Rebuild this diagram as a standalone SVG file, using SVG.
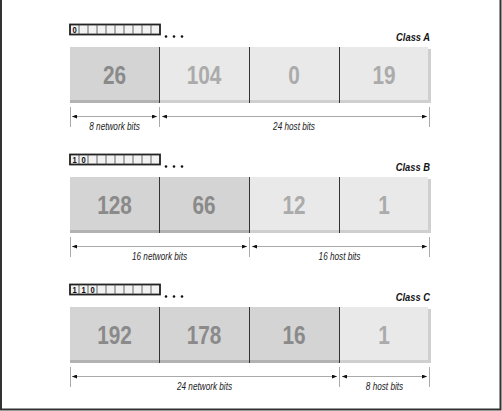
<svg xmlns="http://www.w3.org/2000/svg" width="502" height="411" viewBox="0 0 502 411">
<defs>
<style>
.net{fill:#d4d4d4}
.host{fill:#e9e9e9}
.netsh{fill:#b2b2b2}
.hostsh{fill:#cfcfcf}
.div{stroke:#333;stroke-width:1}
.num{font-family:"Liberation Sans",Arial,sans-serif;font-weight:bold;font-size:26px;text-anchor:middle}
.nd{fill:#8a8a8a}
.nl{fill:#ababab}
.cls{font-family:"Liberation Sans",Arial,sans-serif;font-weight:bold;font-style:italic;font-size:11px;text-anchor:end;fill:#111}
.dim{font-family:"Liberation Sans",Arial,sans-serif;font-style:italic;font-size:10px;text-anchor:middle;fill:#222}
.tick{stroke:#aaa;stroke-width:1}
.arr{stroke:#aaa;stroke-width:1;fill:none;marker-start:url(#ah);marker-end:url(#ah)}
.box{fill:#f2f2f2;stroke:#222;stroke-width:1.8}
.cell{stroke:#444;stroke-width:0.8}
.bit{font-family:"Liberation Sans",Arial,sans-serif;font-weight:bold;font-size:9.5px;text-anchor:middle;fill:#111}
.dot{fill:#111}
</style>
<marker id="ah" markerWidth="5" markerHeight="4" refX="5" refY="2" orient="auto-start-reverse" markerUnits="userSpaceOnUse">
<path d="M0,0 L5,2 L0,4 z" fill="#111"/>
</marker>
<g id="cells">
<rect class="box" x="70" y="0" width="90" height="10"/>
<path class="cell" d="M79,0V10M88,0V10M97,0V10M106,0V10M115,0V10M124,0V10M133,0V10M142,0V10M151,0V10"/>
<circle class="dot" cx="166" cy="12" r="1.3"/>
<circle class="dot" cx="174" cy="12" r="1.3"/>
<circle class="dot" cx="182" cy="12" r="1.3"/>
</g>
</defs>

<path d="M1,0 V409.5 H500.5 V0" fill="none" stroke="#333" stroke-width="2"/>

<!-- Class A -->
<g id="classA-bits">
<use href="#cells" y="24.5"/>
<text class="bit" transform="translate(74.5,33.2) scale(0.8,1)">0</text>
</g>
<text id="classA-label" class="cls" transform="translate(430,41) scale(0.85,1)">Class A</text>
<g id="classA-seg1">
<rect class="net" x="70" y="47" width="89" height="53"/>
<rect class="netsh" x="70" y="100" width="89" height="3"/>
<text class="num nd" transform="translate(114.5,84) scale(0.8,1)">26</text>
</g>
<g id="classA-seg2">
<rect class="host" x="159" y="47" width="90" height="53"/>
<rect class="hostsh" x="159" y="100" width="90" height="3"/>
<text class="num nl" transform="translate(204,84) scale(0.8,1)">104</text>
</g>
<g id="classA-seg3">
<rect class="host" x="249" y="47" width="90" height="53"/>
<rect class="hostsh" x="249" y="100" width="90" height="3"/>
<text class="num nl" transform="translate(294,84) scale(0.8,1)">0</text>
</g>
<g id="classA-seg4">
<rect class="host" x="339" y="47" width="89" height="53"/>
<rect class="hostsh" x="339" y="100" width="92" height="3"/>
<rect class="hostsh" x="428" y="49" width="3" height="54"/>
<text class="num nl" transform="translate(384,84) scale(0.8,1)">19</text>
</g>
<path class="div" d="M159.5,47V103M249.5,47V103M339.5,47V103"/>

<!-- Class B -->
<g id="classB-bits">
<use href="#cells" y="154.5"/>
<text class="bit" transform="translate(74.5,163.2) scale(0.8,1)">1</text>
<text class="bit" transform="translate(83.5,163.2) scale(0.8,1)">0</text>
</g>
<text id="classB-label" class="cls" transform="translate(430,171) scale(0.85,1)">Class B</text>
<g id="classB-seg1">
<rect class="net" x="70" y="177" width="89" height="53"/>
<rect class="netsh" x="70" y="230" width="89" height="3"/>
<text class="num nd" transform="translate(114.5,214) scale(0.8,1)">128</text>
</g>
<g id="classB-seg2">
<rect class="net" x="159" y="177" width="90" height="53"/>
<rect class="netsh" x="159" y="230" width="90" height="3"/>
<text class="num nd" transform="translate(204,214) scale(0.8,1)">66</text>
</g>
<g id="classB-seg3">
<rect class="host" x="249" y="177" width="90" height="53"/>
<rect class="hostsh" x="249" y="230" width="90" height="3"/>
<text class="num nl" transform="translate(294,214) scale(0.8,1)">12</text>
</g>
<g id="classB-seg4">
<rect class="host" x="339" y="177" width="89" height="53"/>
<rect class="hostsh" x="339" y="230" width="92" height="3"/>
<rect class="hostsh" x="428" y="179" width="3" height="54"/>
<text class="num nl" transform="translate(384,214) scale(0.8,1)">1</text>
</g>
<path class="div" d="M159.5,177V233M249.5,177V233M339.5,177V233"/>

<!-- Class C -->
<g id="classC-bits">
<use href="#cells" y="284.5"/>
<text class="bit" transform="translate(74.5,293.2) scale(0.8,1)">1</text>
<text class="bit" transform="translate(83.5,293.2) scale(0.8,1)">1</text>
<text class="bit" transform="translate(92.5,293.2) scale(0.8,1)">0</text>
</g>
<text id="classC-label" class="cls" transform="translate(430,301) scale(0.85,1)">Class C</text>
<g id="classC-seg1">
<rect class="net" x="70" y="307" width="89" height="53"/>
<rect class="netsh" x="70" y="360" width="89" height="3"/>
<text class="num nd" transform="translate(114.5,344) scale(0.8,1)">192</text>
</g>
<g id="classC-seg2">
<rect class="net" x="159" y="307" width="90" height="53"/>
<rect class="netsh" x="159" y="360" width="90" height="3"/>
<text class="num nd" transform="translate(204,344) scale(0.8,1)">178</text>
</g>
<g id="classC-seg3">
<rect class="net" x="249" y="307" width="90" height="53"/>
<rect class="netsh" x="249" y="360" width="90" height="3"/>
<text class="num nd" transform="translate(294,344) scale(0.8,1)">16</text>
</g>
<g id="classC-seg4">
<rect class="host" x="339" y="307" width="89" height="53"/>
<rect class="hostsh" x="339" y="360" width="92" height="3"/>
<rect class="hostsh" x="428" y="309" width="3" height="54"/>
<text class="num nl" transform="translate(384,344) scale(0.8,1)">1</text>
</g>
<path class="div" d="M159.5,307V363M249.5,307V363M339.5,307V363"/>

<!-- connectors: dimension lines -->
<g id="connectors">
<path class="tick" d="M70.5,107V127M159.5,107V127M429.5,107V127"/>
<line class="arr" x1="72" y1="116.5" x2="157" y2="116.5"/>
<line class="arr" x1="162" y1="116.5" x2="427" y2="116.5"/>
<path class="tick" d="M70.5,237V257M249.5,237V257M429.5,237V257"/>
<line class="arr" x1="72" y1="246.5" x2="247" y2="246.5"/>
<line class="arr" x1="252" y1="246.5" x2="427" y2="246.5"/>
<path class="tick" d="M70.5,367V387M339.5,367V387M429.5,367V387"/>
<line class="arr" x1="72" y1="376.5" x2="337" y2="376.5"/>
<line class="arr" x1="342" y1="376.5" x2="427" y2="376.5"/>
</g>

<g id="dim-labels">
<text class="dim" transform="translate(114.5,130) scale(0.82,1)">8 network bits</text>
<text class="dim" transform="translate(294,130) scale(0.82,1)">24 host bits</text>
<text class="dim" transform="translate(159.5,260) scale(0.82,1)">16 network bits</text>
<text class="dim" transform="translate(339.5,260) scale(0.82,1)">16 host bits</text>
<text class="dim" transform="translate(204.5,390) scale(0.82,1)">24 network bits</text>
<text class="dim" transform="translate(384.5,390) scale(0.82,1)">8 host bits</text>
</g>
</svg>
